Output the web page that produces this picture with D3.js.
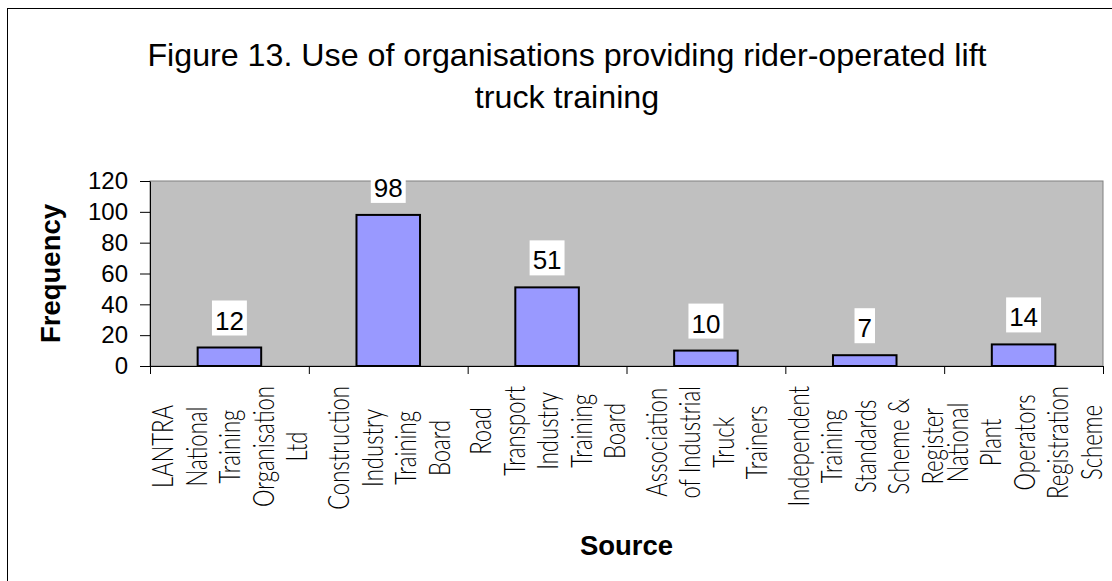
<!DOCTYPE html>
<html>
<head>
<meta charset="utf-8">
<script src="https://cdn.jsdelivr.net/npm/d3@7"></script>
<style>
  body { margin: 0; background: #fff; }
  svg { display: block; }
  .tick text { font-family: "Liberation Sans", Arial, sans-serif; }
</style>
</head>
<body>
<div id="grafica"></div>
<script>
// datos
const categorias = [
  "LANTRA National Training Organisation Ltd",
  "Construction Industry Training Board",
  "Road Transport Industry Training Board",
  "Association of Industrial Truck Trainers",
  "Independent Training Standards Scheme & Register",
  "National Plant Operators Registration Scheme"
];
// como se parte cada etiqueta en lineas
const lineas = [
  ["LANTRA", "National", "Training", "Organisation", "Ltd"],
  ["Construction", "Industry", "Training", "Board"],
  ["Road", "Transport", "Industry", "Training", "Board"],
  ["Association", "of Industrial", "Truck", "Trainers"],
  ["Independent", "Training", "Standards", "Scheme &", "Register"],
  ["National", "Plant", "Operators", "Registration", "Scheme"]
];
const frecuencias = [12, 98, 51, 10, 7, 14];
const yTicks = [0, 20, 40, 60, 80, 100, 120];
const titulo = ["Figure 13. Use of organisations providing rider-operated lift", "truck training"];

const W = 1112, H = 581;
const izq = 150, der = 1103, arr = 181, abj = 366;

const svg = d3.select("#grafica").append("svg")
  .attr("width", W)
  .attr("height", H);

// marco del grafico (solo se ven arriba e izquierda)
svg.append("rect")
  .attr("x", 7.5).attr("y", 8.5)
  .attr("width", W + 20).attr("height", H + 20)
  .attr("fill", "#fff")
  .attr("stroke", "#000");

// titulo
svg.append("g").selectAll("text")
  .data(titulo)
  .join("text")
  .attr("x", 567)
  .attr("y", (d, i) => 66 + i * 42)
  .attr("text-anchor", "middle")
  .style("font-family", "'Liberation Sans', Arial, sans-serif")
  .style("font-size", "32.2px")
  .text(d => d);

const x = d3.scaleBand()
  .domain(categorias)
  .range([izq, der])
  .paddingInner(0.6)
  .paddingOuter(0.3);

// escala para las separaciones entre categorias
const xBorde = d3.scaleLinear().domain([0, categorias.length]).range([izq, der]);

const y = d3.scaleLinear().domain([0, 120]).range([abj, arr]);

// fondo gris del area de trazado
svg.append("rect")
  .attr("x", izq).attr("y", arr)
  .attr("width", der - izq).attr("height", abj - arr)
  .attr("fill", "#C0C0C0")
  .attr("stroke", "#808080");

// barras
svg.append("g").selectAll("rect")
  .data(frecuencias)
  .join("rect")
  .attr("x", (d, i) => x(categorias[i]))
  .attr("y", d => y(d))
  .attr("width", x.bandwidth())
  .attr("height", d => y(0) - y(d))
  .attr("fill", "#9999FF")
  .attr("stroke", "#000")
  .attr("stroke-width", 2);

// eje Y
const ejeY = svg.append("g")
  .attr("transform", `translate(${izq},0)`)
  .call(d3.axisLeft(y).tickValues(yTicks).tickSize(10).tickSizeOuter(0).tickPadding(12));
ejeY.selectAll("text").style("font-size", "24px").attr("fill", "#000");
ejeY.selectAll("line, path").attr("stroke", "#000");

// eje X con marcas entre categorias
const ejeX = svg.append("g")
  .attr("transform", `translate(0,${abj})`)
  .call(d3.axisBottom(xBorde).tickValues(d3.range(categorias.length + 1)).tickFormat("").tickSize(8).tickSizeOuter(0));
ejeX.selectAll("line, path").attr("stroke", "#000");

// etiquetas de valor con fondo blanco
const etiquetas = svg.append("g").selectAll("g")
  .data(frecuencias)
  .join("g")
  .attr("transform", (d, i) => `translate(${x(categorias[i]) + x.bandwidth() / 2},${y(d) - 18})`);

etiquetas.append("rect").attr("fill", "#fff");
etiquetas.append("text")
  .attr("text-anchor", "middle")
  .style("font-family", "'Liberation Sans', Arial, sans-serif")
  .style("font-size", "26px")
  .text(d => d);
etiquetas.each(function () {
  const g = d3.select(this);
  const w = g.select("text").node().getComputedTextLength();
  g.select("rect")
    .attr("x", -w / 2 - 3).attr("y", -29)
    .attr("width", w + 6).attr("height", 35);
});

// etiquetas de categoria giradas (letra fina y estrecha)
const sep = 33.5, inicio = 386;
const fuenteCat = "Lato, 'Liberation Sans', sans-serif";

// ajustar el estrechamiento para que "Organisation" mida unos 121px
const prueba = svg.append("text")
  .style("font-family", fuenteCat).style("font-size", "29px").style("font-weight", 300)
  .text("Organisation");
const escalaX = 121 / prueba.node().getComputedTextLength();
prueba.remove();

const grupos = svg.append("g").selectAll("g")
  .data(lineas)
  .join("g");

grupos.each(function (ls, i) {
  const g = d3.select(this);
  const cx = x(categorias[i]) + x.bandwidth() / 2;
  const textos = g.selectAll("text")
    .data(ls)
    .join("text")
    .attr("text-anchor", "middle")
    .style("font-family", fuenteCat)
    .style("font-size", "29px")
    .style("font-weight", 300)
    .attr("fill", "#000")
    .text(d => d);
  let maxLen = 0;
  textos.each(function () { maxLen = Math.max(maxLen, this.getComputedTextLength() * escalaX); });
  const cy = inicio + maxLen / 2;
  textos.attr("transform", (d, j) => {
    const lx = cx + (j - (ls.length - 1) / 2) * sep + 11;
    return `translate(${lx},${cy}) rotate(-90) scale(${escalaX},1)`;
  });
});

// titulos de los ejes
svg.append("text")
  .attr("transform", `translate(60,${(arr + abj) / 2}) rotate(-90)`)
  .attr("text-anchor", "middle")
  .style("font-family", "'Liberation Sans', Arial, sans-serif")
  .style("font-size", "27.5px")
  .style("font-weight", "bold")
  .text("Frequency");

svg.append("text")
  .attr("x", (izq + der) / 2)
  .attr("y", 555)
  .attr("text-anchor", "middle")
  .style("font-family", "'Liberation Sans', Arial, sans-serif")
  .style("font-size", "27.5px")
  .style("font-weight", "bold")
  .text("Source");
</script>
</body>
</html>
